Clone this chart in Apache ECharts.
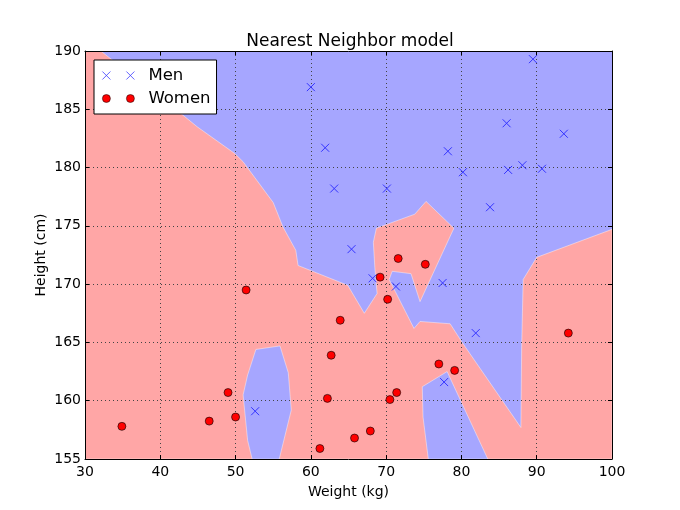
<!DOCTYPE html>
<html>
<head>
<meta charset="utf-8">
<style>
  html, body { margin: 0; padding: 0; background: #fff; }
  #chart { width: 680px; height: 510px; }
</style>
<script src="https://cdn.jsdelivr.net/npm/echarts@6/dist/echarts.min.js"></script>
</head>
<body>
<div id="chart"></div>
<script>
var men = [
  [60.0, 186.9], [61.9, 181.7], [63.1, 178.2], [65.4, 173.0], [68.2, 170.5],
  [70.1, 178.2], [71.3, 169.8], [77.5, 170.1], [78.2, 181.4], [80.2, 179.6],
  [81.9, 165.8], [77.7, 161.6], [83.8, 176.6], [86.0, 183.8], [86.2, 179.8],
  [88.1, 180.2], [90.7, 179.9], [93.6, 182.9], [89.5, 189.3], [52.6, 159.1]
];
var women = [
  [34.9, 157.8], [46.5, 158.25], [49.0, 160.7], [50.0, 158.6], [51.4, 169.5],
  [63.9, 166.9], [62.7, 163.9], [62.2, 160.2], [61.2, 155.9], [65.8, 156.8],
  [67.9, 157.4], [69.2, 170.6], [70.2, 168.7], [70.5, 160.1], [71.4, 160.7],
  [71.6, 172.2], [75.2, 171.7], [77.0, 163.15], [79.1, 162.6], [94.2, 165.8]
];
// decision regions
var womenRegion = [
  [30, 190], [32.1, 190], [43.0, 184.5], [44.9, 183.5], [49.9, 181.2], [51.0, 180.5],
  [55.0, 177.0], [56.3, 174.9], [58.0, 172.9], [58.3, 171.6], [64.9, 169.9], [67.1, 167.5],
  [68.8, 169.2], [68.5, 171.4], [68.3, 173.6], [68.7, 174.8], [73.8, 176.0], [75.3, 177.1],
  [79.0, 174.8], [74.5, 168.5], [73.3, 170.9], [70.8, 171.1], [70.4, 170.4], [73.7, 166.2],
  [74.5, 166.8], [78.5, 166.6], [80.1, 165.0], [87.9, 157.7], [88.0, 164.6], [88.2, 170.4],
  [90.0, 172.3], [100, 174.7], [100, 155], [30, 155]
];
var menIslandLeft = [
  [52.2, 155], [51.6, 156.6], [51.0, 160.5], [51.6, 162.2], [52.7, 164.4],
  [55.9, 164.7], [57.0, 162.4], [57.4, 159.2], [55.8, 155]
];
var menIslandBottom = [
  [74.8, 161.2], [78.1, 162.5], [83.5, 155], [75.6, 155], [74.9, 158.6]
];

var chart = echarts.init(document.getElementById('chart'));

function regionSeries(points, color) {
  return {
    type: 'custom',
    z: 1,
    silent: true,
    data: [points[0]],
    encode: { x: 0, y: 1 },
    renderItem: function (params, api) {
      return {
        type: 'polygon',
        shape: { points: points.map(function (p) { return api.coord(p); }) },
        style: { fill: color, stroke: '#fff', lineWidth: 0.6, strokeOpacity: 0.7 }
      };
    }
  };
}

function makeAxis(extra) {
  return Object.assign({
    type: 'value',
    z: 5,
    axisLine: { onZero: false, lineStyle: { color: '#000', width: 1 } },
    axisTick: { show: true, inside: true, length: 4, lineStyle: { color: '#000' } },
    axisLabel: { show: false },
    splitLine: { show: false }
  }, extra);
}

var labelFont = { color: '#000', fontFamily: 'DejaVu Sans', fontSize: 14 };

chart.setOption({
  animation: false,
  backgroundColor: '#fff',
  textStyle: { fontFamily: 'DejaVu Sans' },
  title: {
    text: 'Nearest Neighbor model',
    left: 345,
    top: 28,
    textAlign: 'center',
    textStyle: { color: '#000', fontFamily: 'DejaVu Sans', fontWeight: 'normal', fontSize: 17 }
  },
  grid: { left: 85, right: 68, top: 51, bottom: 51, show: true, backgroundColor: '#a6a6ff', borderWidth: 0 },
  legend: {
    left: 94,
    top: 60,
    z: 20,
    orient: 'vertical',
    backgroundColor: '#fff',
    borderColor: '#000',
    borderWidth: 1,
    borderRadius: 0,
    padding: [7, 6, 7, 8],
    itemGap: 6,
    itemWidth: 32,
    itemHeight: 8,
    textStyle: { color: '#000', fontFamily: 'DejaVu Sans', fontSize: 16.5, padding: [0, 0, 0, 9] },
    data: [
      {
        name: 'Men',
        icon: 'path://M0 0L8 8M0 8L8 0M24 0L32 8M24 8L32 0',
        itemStyle: { color: 'transparent', borderColor: '#3c3cff', borderWidth: 0.8 }
      },
      {
        name: 'Women',
        icon: 'path://M0 4A4 4 0 1 1 8 4A4 4 0 1 1 0 4ZM24 4A4 4 0 1 1 32 4A4 4 0 1 1 24 4Z',
        itemStyle: { color: '#f00', borderColor: '#000', borderWidth: 0.5 }
      }
    ]
  },
  xAxis: [
    makeAxis({
      min: 30, max: 100, interval: 10, position: 'bottom',
      name: 'Weight (kg)', nameLocation: 'middle', nameGap: 26,
      nameTextStyle: labelFont,
      axisLabel: Object.assign({ show: true, margin: 6 }, labelFont),
      splitLine: { show: true, lineStyle: { color: '#444', type: [1, 3], width: 1 } }
    }),
    makeAxis({ min: 30, max: 100, interval: 10, position: 'top' })
  ],
  yAxis: [
    makeAxis({
      min: 155, max: 190, interval: 5, position: 'left',
      name: 'Height (cm)', nameLocation: 'middle', nameGap: 37, nameMoveOverlap: false,
      nameTextStyle: labelFont,
      axisLabel: Object.assign({ show: true, margin: 4 }, labelFont),
      splitLine: { show: true, lineStyle: { color: '#444', type: [1, 3], width: 1 } }
    }),
    makeAxis({ min: 155, max: 190, interval: 5, position: 'right' })
  ],
  series: [
    regionSeries(womenRegion, '#ffa6a6'),
    regionSeries(menIslandLeft, '#a6a6ff'),
    regionSeries(menIslandBottom, '#a6a6ff'),
    {
      name: 'Men',
      type: 'scatter',
      z: 10,
      symbol: 'path://M0 0L8 8M0 8L8 0',
      symbolSize: 8,
      itemStyle: { color: 'transparent', borderColor: '#3434ff', borderWidth: 1, opacity: 1 },
      data: men
    },
    {
      name: 'Women',
      type: 'scatter',
      z: 10,
      symbol: 'circle',
      symbolSize: 8,
      itemStyle: { color: '#f00', borderColor: '#000', borderWidth: 0.6, opacity: 1 },
      data: women
    }
  ]
});
</script>
</body>
</html>
